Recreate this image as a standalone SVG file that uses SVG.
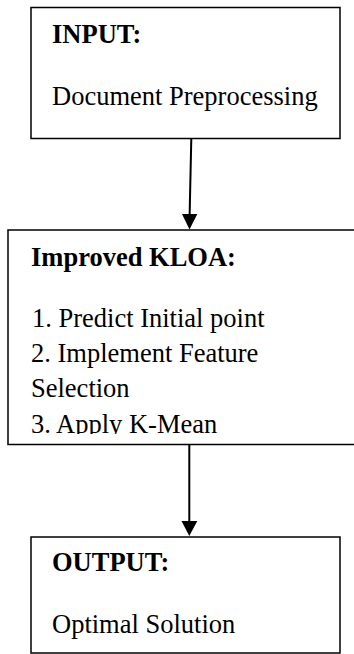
<svg xmlns="http://www.w3.org/2000/svg" width="354" height="654" viewBox="0 0 354 654">
  <style>
    .box { fill: #ffffff; stroke: #000000; stroke-width: 1.5; }
    .head { font-family: "Liberation Serif", "Times New Roman", serif; font-weight: bold; font-size: 26.5px; fill: #000000; }
    .body { font-family: "Liberation Serif", "Times New Roman", serif; font-size: 26.5px; fill: #000000; }
    .link { stroke: #000000; stroke-width: 2; fill: none; }
    .tip { fill: #000000; }
  </style>
  <defs>
    <!-- the step list overflows its box; the last line is cut off above the border -->
    <clipPath id="kloaClip">
      <rect x="8" y="230" width="346" height="204"/>
    </clipPath>
  </defs>
  <rect width="354" height="654" fill="#ffffff"/>

  <g id="input">
    <rect class="box" x="31" y="7.5" width="309" height="131"/>
    <text class="head" x="52" y="43">INPUT:</text>
    <text class="body" x="52" y="104.5">Document Preprocessing</text>
  </g>

  <g id="kloa">
    <path class="box" d="M355 230 H8 V444.5 H355"/>
    <g clip-path="url(#kloaClip)">
      <text class="head" x="31" y="266">Improved KLOA:</text>
      <text class="body" x="32" y="327">1. Predict Initial point</text>
      <text class="body" x="31" y="362">2. Implement Feature</text>
      <text class="body" x="31" y="397">Selection</text>
      <text class="body" x="31" y="433">3. Apply K-Mean</text>
    </g>
  </g>

  <g id="output">
    <rect class="box" x="31" y="537" width="309" height="116"/>
    <text class="head" x="52" y="571">OUTPUT:</text>
    <text class="body" x="52" y="633">Optimal Solution</text>
  </g>

  <g id="connectors">
    <line class="link" x1="191.3" y1="138.5" x2="189.6" y2="216"/>
    <polygon class="tip" points="182,214 197.3,214 189.5,229.5"/>
    <line class="link" x1="189.3" y1="444.5" x2="189.3" y2="523"/>
    <polygon class="tip" points="181.5,521 197.3,521 189.3,536"/>
  </g>
</svg>
